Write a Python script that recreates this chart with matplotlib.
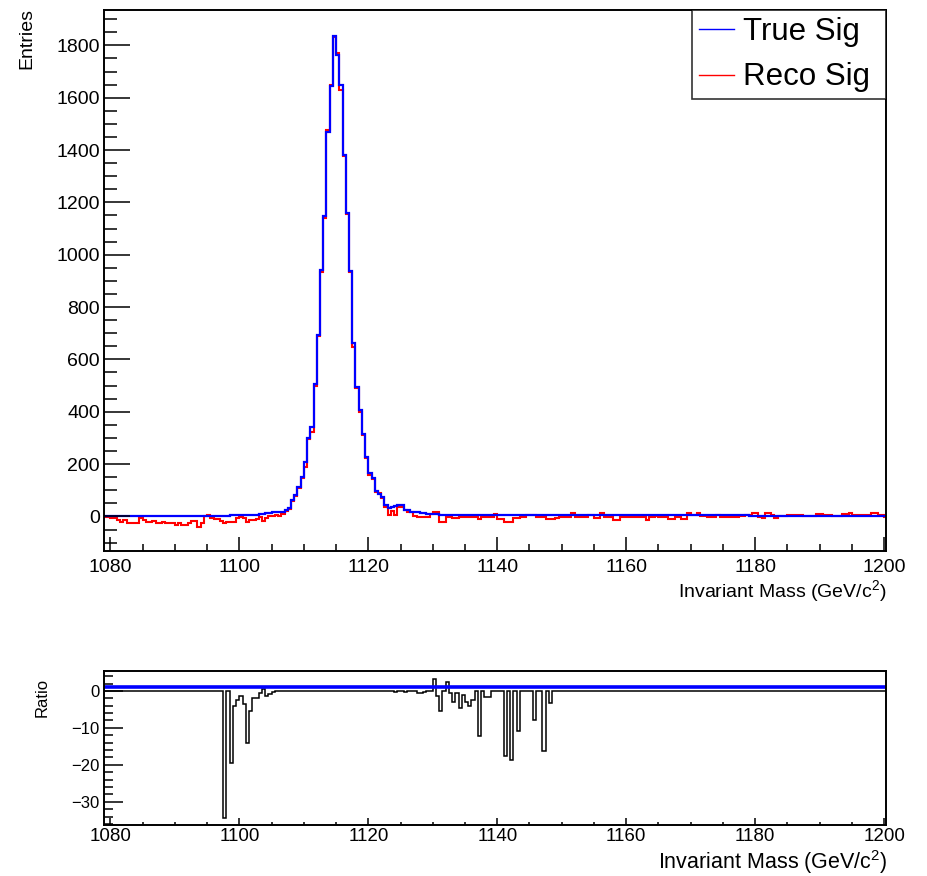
import numpy as np
import matplotlib
matplotlib.use('Agg')
import matplotlib.pyplot as plt
from matplotlib.lines import Line2D
from matplotlib.ticker import MultipleLocator

plt.rcParams['font.family'] = ['Liberation Sans', 'DejaVu Sans']
plt.rcParams['mathtext.fontset'] = 'custom'
plt.rcParams['mathtext.rm'] = 'Liberation Sans'
plt.rcParams['mathtext.it'] = 'Liberation Sans:italic'

# ---------------- data (0.5 GeV bins starting at 1079 GeV) ----------------
mass_start = 1079.0
bin_width = 0.5

true_sig = [
    2, 2, 2, 2, 2, 2, 2, 2, 2, 2,
    2, 2, 2, 2, 2, 2, 2, 2, 3, 3,
    3, 3, 3, 3, 3, 3, 3, 3, 3, 3,
    3, 3, 3, 3, 3, 3, 3, 3, 3, 4,
    4, 4, 4, 5, 5, 5, 6, 6, 8, 8,
    12, 12, 16, 16, 18, 18, 25, 32, 63, 82,
    114, 152, 209, 299, 343, 506, 693, 942, 1149, 1470,
    1646, 1837, 1763, 1649, 1381, 1159, 938, 662, 494, 407,
    315, 226, 165, 146, 99, 86, 76, 44, 32, 36,
    40, 44, 44, 25, 25, 16, 16, 16, 14, 14,
    10, 8, 8, 8, 7, 7, 7, 6, 6, 6,
    5, 5, 5, 5, 5, 5, 5, 5, 5, 5,
    5, 5, 5, 5, 5, 5, 5, 5, 5, 5,
    5, 5, 5, 5, 5, 5, 5, 5, 5, 5,
    5, 5, 5, 5, 5, 5, 5, 5, 5, 5,
    5, 5, 5, 5, 5, 5, 5, 5, 5, 5,
    4, 4, 4, 4, 4, 4, 4, 4, 4, 4,
    4, 4, 4, 4, 4, 4, 4, 4, 4, 4,
    4, 4, 4, 4, 4, 4, 4, 4, 4, 4,
    4, 4, 4, 4, 4, 4, 4, 4, 4, 4,
    3, 3, 3, 3, 3, 3, 3, 3, 3, 3,
    3, 3, 3, 3, 3, 3, 3, 3, 3, 3,
    3, 3, 3, 3, 3, 3, 3, 3, 3, 3,
    3, 3, 3, 3, 3, 3, 3, 3, 3, 3,
    3, 3, 3,
]

reco_sig = [
    -3, -3, -7, -7, -13, -22, -13, -24, -24, -26,
    -26, -7, -13, -22, -22, -16, -24, -24, -20, -26,
    -26, -26, -32, -26, -32, -32, -24, -17, -17, -39,
    -24, 0, 6, -7, -10, -10, -16, -26, -20, -20,
    -20, -7, -3, -7, -22, -13, -13, -10, -3, -16,
    -7, 0, 2, 5, 0, 8, 20, 28, 60, 80,
    110, 147, 190, 295, 324, 500, 690, 935, 1140, 1478,
    1650, 1830, 1770, 1630, 1378, 1155, 935, 649, 490, 400,
    312, 222, 158, 143, 95, 88, 72, 37, 6, 20,
    6, 37, 37, 25, 16, 16, 2, -4, -4, -1,
    -1, 10, 18, 18, -22, -22, -1, -1, -7, -7,
    -4, -4, -4, -1, -1, -1, -10, -4, -4, -4,
    -4, 10, -11, -11, -20, -20, -20, -7, -7, -4,
    -4, 6, 6, 6, -4, -4, -4, -11, -11, -11,
    -7, -1, -1, -1, -1, 12, -1, -4, -4, -4,
    6, 6, -7, -7, 12, -1, -1, -1, -13, -13,
    -4, -4, -3, -1, -1, -4, -4, -4, -13, -3,
    -3, 2, -1, -1, -1, -11, -11, -3, -3, -11,
    -11, 12, 6, 6, 12, 2, 2, -3, -3, -3,
    6, -1, -1, -1, -1, -1, -1, 2, 2, 6,
    6, 15, 15, -1, -7, 15, 15, 6, -7, 2,
    2, 2, 6, 6, 4, 4, 4, 2, 2, 2,
    2, 10, 10, 4, 4, 4, 2, 2, 2, 10,
    10, 12, 6, 6, 6, 6, 6, 6, 12, 12,
    6, 6, -1,
]

ratio_vals = [
    0, 0, 0, 0, 0, 0, 0, 0, 0, 0,
    0, 0, 0, 0, 0, 0, 0, 0, 0, 0,
    0, 0, 0, 0, 0, 0, 0, 0, 0, 0,
    0, 0, 0, 0, 0, 0, 0, -34.5, 0, -19.5,
    -4.0, -2.5, -1.3, -3.5, -14.0, -5.5, -2.0, -2.0, -0.5, 0.4,
    -1.3, -0.7, -0.2, 0, 0, 0, 0, 0, 0, 0,
    0, 0, 0, 0, 0, 0, 0, 0, 0, 0,
    0, 0, 0, 0, 0, 0, 0, 0, 0, 0,
    0, 0, 0, 0, 0, 0, 0, 0, 0, 0,
    -0.3, 0, 0, -0.3, 0, 0, 0, -0.5, -0.5, -0.2,
    0, 0, 3.3, -1.4, -5.5, 0, 2.5, -0.5, -3.0, -0.5,
    -4.5, -1.0, -3.0, -4.0, -2.5, 0, -12.2, 0, -1.7, -1.7,
    0, 0, 0, 0, -17.6, 0, -18.8, 0, -10.8, 0,
    0, 0, 0, -8.0, 0, 0, -16.2, 0, -3.2, 0,
    0, 0, 0, 0, 0, 0, 0, 0, 0, 0,
    0, 0, 0, 0, 0, 0, 0, 0, 0, 0,
    0, 0, 0, 0, 0, 0, 0, 0, 0, 0,
    0, 0, 0, 0, 0, 0, 0, 0, 0, 0,
    0, 0, 0, 0, 0, 0, 0, 0, 0, 0,
    0, 0, 0, 0, 0, 0, 0, 0, 0, 0,
    0, 0, 0, 0, 0, 0, 0, 0, 0, 0,
    0, 0, 0, 0, 0, 0, 0, 0, 0, 0,
    0, 0, 0, 0, 0, 0, 0, 0, 0, 0,
    0, 0, 0, 0, 0, 0, 0, 0, 0, 0,
    0, 0, 0,
]
ratio_ref = 1.0

series_labels = ['True Sig', 'Reco Sig']
x_title = 'Invariant Mass (GeV/c$^2$)'

edges = mass_start + bin_width * np.arange(len(true_sig) + 1)

# ---------------- figure ----------------
W, H = 928, 876
fig = plt.figure(figsize=(W / 100, H / 100), dpi=100)
ax1 = fig.add_axes([104 / W, 1 - 551 / H, 782 / W, 541 / H])
ax2 = fig.add_axes([104 / W, 1 - 825 / H, 782 / W, 154 / H])

BLUE = '#0000ff'
RED = '#ff0000'

ax1.stairs(reco_sig, edges, color=RED, lw=1.5, baseline=None)
ax1.stairs(true_sig, edges, color=BLUE, lw=1.6, baseline=None)
ax1.set_xlim(1079, 1200.3)
ax1.set_ylim(-132, 1935)

ax2.stairs(ratio_vals, edges, color='black', lw=1.1, baseline=None)
ax2.axhline(ratio_ref, color=BLUE, lw=2.6)
ax2.set_xlim(1079, 1200.3)
ax2.set_ylim(-36.3, 5.4)

for ax in (ax1, ax2):
    for s in ax.spines.values():
        s.set_linewidth(1.4)
    ax.xaxis.set_major_locator(MultipleLocator(20))
    ax.xaxis.set_minor_locator(MultipleLocator(5))
    ax.tick_params(which='both', direction='in', top=False, right=False, width=1.1)

ax1.yaxis.set_major_locator(MultipleLocator(200))
ax1.yaxis.set_minor_locator(MultipleLocator(50))
ax1.tick_params(axis='x', which='major', length=10, labelsize=14, pad=6)
ax1.tick_params(axis='x', which='minor', length=5)
ax1.tick_params(axis='y', which='major', length=18.5, labelsize=14, pad=3)
ax1.tick_params(axis='y', which='minor', length=9.3)

ax2.yaxis.set_major_locator(MultipleLocator(10))
ax2.yaxis.set_minor_locator(MultipleLocator(2))
ax2.tick_params(axis='x', which='major', length=5, labelsize=13.5, pad=2.5)
ax2.tick_params(axis='x', which='minor', length=2.5)
ax2.tick_params(axis='y', which='major', length=13.5, labelsize=12, pad=3)
ax2.tick_params(axis='y', which='minor', length=6.5)

fig.text(27 / W, 1 - 8 / H, 'Entries', rotation=90, ha='center', va='top', fontsize=14)
fig.text(886 / W, 1 - 597 / H, x_title, ha='right', va='baseline', fontsize=14)
fig.text(42 / W, 1 - 678 / H, 'Ratio', rotation=90, ha='center', va='top', fontsize=12)
fig.text(888 / W, 1 - 869 / H, x_title, ha='right', va='baseline', fontsize=15.5)

handles = [Line2D([], [], color=BLUE, lw=1.0), Line2D([], [], color=RED, lw=1.0)]
leg = ax1.legend(handles, [s + ' ' for s in series_labels], loc='upper right',
                 bbox_to_anchor=(1.0, 1.0),
                 fontsize=22.5, frameon=True, fancybox=False, edgecolor='black',
                 borderaxespad=0.0, borderpad=0.22, labelspacing=0.5,
                 handlelength=1.12, handletextpad=0.3)
leg.get_frame().set_linewidth(1.2)

fig.savefig('out.png', dpi=100)
